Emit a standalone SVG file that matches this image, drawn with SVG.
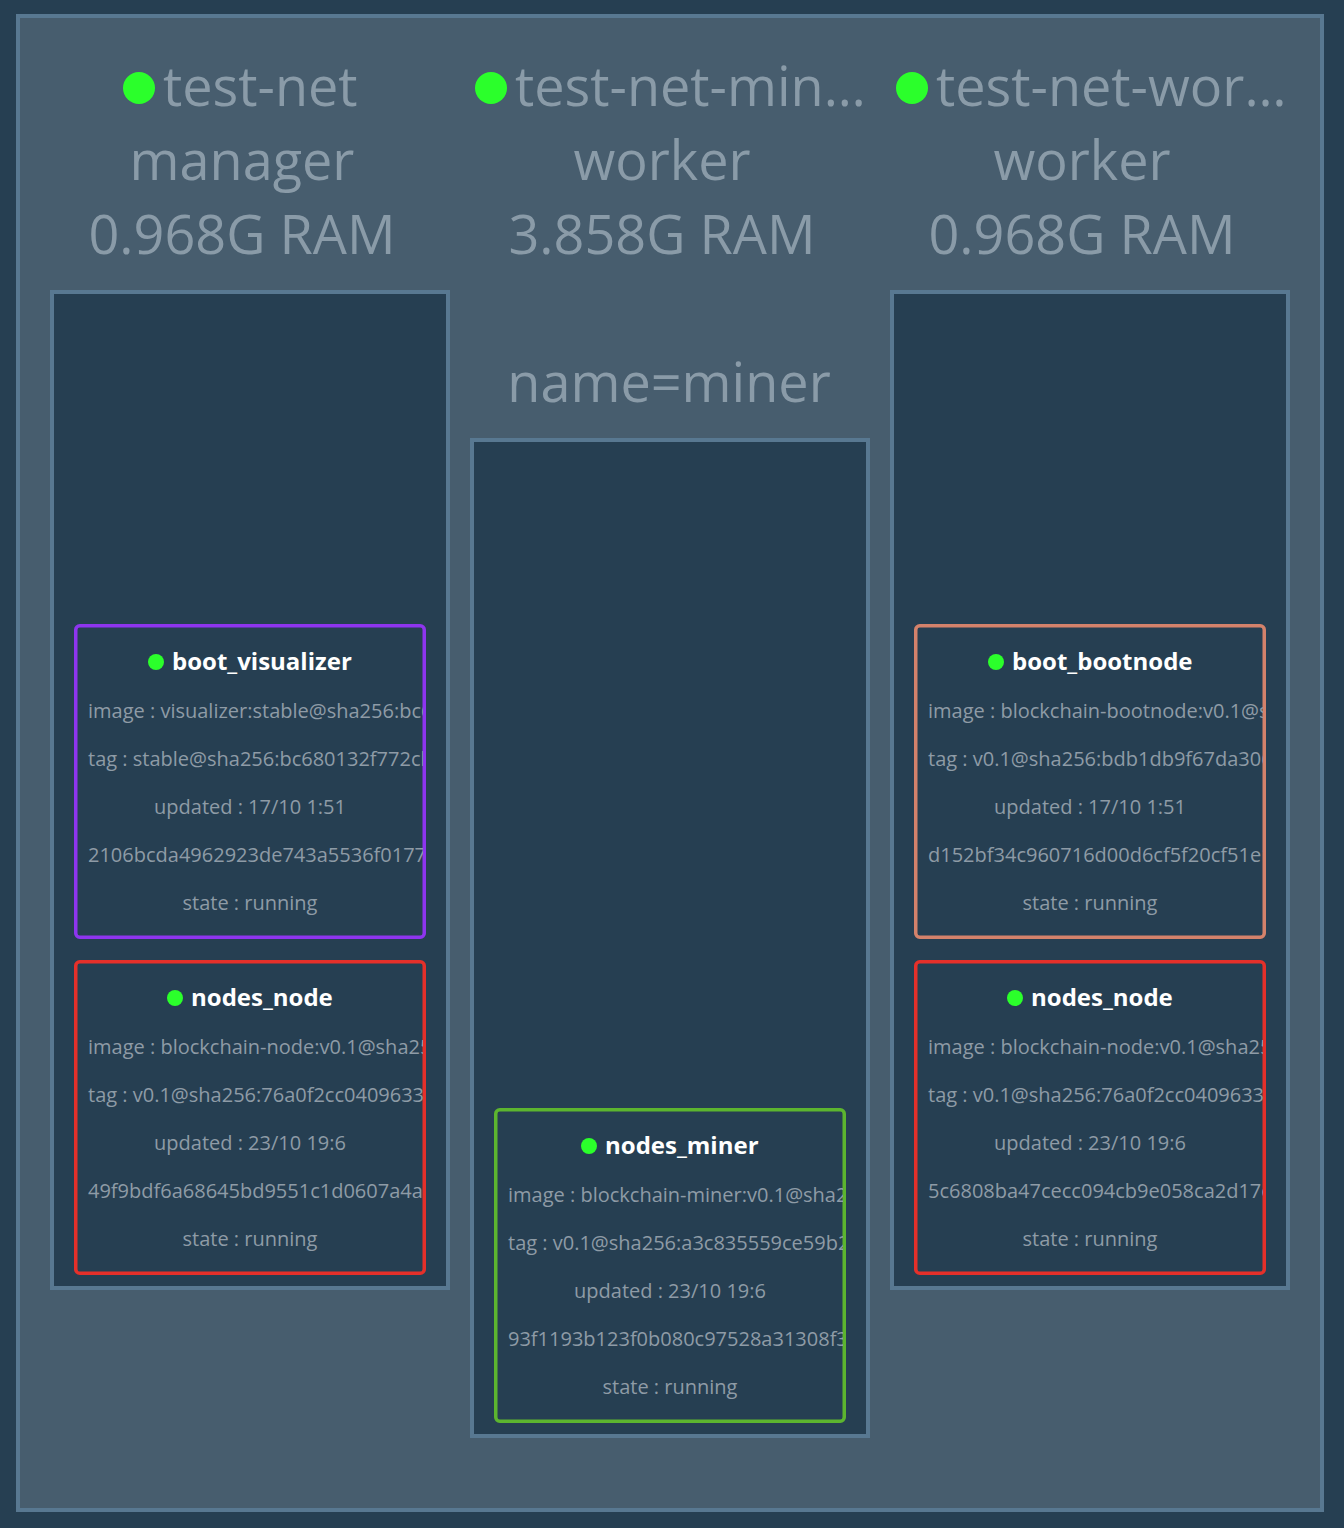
<svg xmlns="http://www.w3.org/2000/svg" width="1344" height="1528" viewBox="0 0 1344 1528">
<style>
.bg{fill:#263f52}
.panel{fill:#475d6e;stroke:#587891;stroke-width:4}
.host{fill:#263f52;stroke:#587891;stroke-width:4}
.hdr{font-family:"Open Sans","Liberation Sans",sans-serif;font-size:54px;fill:#8a9ba8}
.dot{fill:#2bff2b}
.card{fill:#263f52;stroke-width:3.5}
.ttl{font-family:"Open Sans","Liberation Sans",sans-serif;font-size:24px;font-weight:bold;fill:#ffffff}
.det{font-family:"Open Sans","Liberation Sans",sans-serif;font-size:20px;fill:#8e9ba6}
.c{text-anchor:middle}
</style>
<defs>
<clipPath id="cl1"><rect x="77" y="627" width="346" height="309"/></clipPath>
<clipPath id="cl2"><rect x="77" y="963" width="346" height="309"/></clipPath>
<clipPath id="cl3"><rect x="497" y="1111" width="346" height="309"/></clipPath>
<clipPath id="cl4"><rect x="917" y="627" width="346" height="309"/></clipPath>
<clipPath id="cl5"><rect x="917" y="963" width="346" height="309"/></clipPath>
</defs>
<rect class="bg" x="0" y="0" width="1344" height="1528"/>
<rect class="panel" x="18" y="16" width="1304" height="1494"/>

<g id="host-manager">
<circle class="dot" cx="139" cy="88" r="16"/>
<text class="hdr" x="163" y="106">test-net</text>
<text class="hdr c" x="242" y="180">manager</text>
<text class="hdr c" x="242" y="254">0.968G RAM</text>
<rect class="host" x="52" y="292" width="396" height="996"/>
</g>

<g id="host-miner">
<circle class="dot" cx="491" cy="88" r="16"/>
<text class="hdr" x="515" y="106">test-net-min…</text>
<text class="hdr c" x="662" y="180">worker</text>
<text class="hdr c" x="662" y="254">3.858G RAM</text>
<text class="hdr c" x="669" y="402">name=miner</text>
<rect class="host" x="472" y="440" width="396" height="996"/>
</g>

<g id="host-worker">
<circle class="dot" cx="912" cy="88" r="16"/>
<text class="hdr" x="936" y="106">test-net-wor…</text>
<text class="hdr c" x="1082" y="180">worker</text>
<text class="hdr c" x="1082" y="254">0.968G RAM</text>
<rect class="host" x="892" y="292" width="396" height="996"/>
</g>

<g id="card-boot-visualizer">
<rect class="card" x="75.75" y="625.75" width="348.5" height="311.5" rx="4" stroke="#8e35ef"/>
<circle class="dot" cx="156" cy="662" r="8"/>
<text class="ttl" x="172" y="670">boot_visualizer</text>
<g clip-path="url(#cl1)">
<text class="det" x="88" y="718">image : visualizer:stable@sha256:bc6</text>
<text class="det" x="88" y="766">tag : stable@sha256:bc680132f772cb</text>
<text class="det c" x="250" y="814">updated : 17/10 1:51</text>
<text class="det" x="88" y="862">2106bcda4962923de743a5536f0177</text>
<text class="det c" x="250" y="910">state : running</text>
</g>
</g>

<g id="card-nodes-node-1">
<rect class="card" x="75.75" y="961.75" width="348.5" height="311.5" rx="4" stroke="#e5302a"/>
<circle class="dot" cx="175" cy="998" r="8"/>
<text class="ttl" x="191" y="1006">nodes_node</text>
<g clip-path="url(#cl2)">
<text class="det" x="88" y="1054">image : blockchain-node:v0.1@sha256</text>
<text class="det" x="88" y="1102">tag : v0.1@sha256:76a0f2cc04096331</text>
<text class="det c" x="250" y="1150">updated : 23/10 19:6</text>
<text class="det" x="88" y="1198">49f9bdf6a68645bd9551c1d0607a4a2</text>
<text class="det c" x="250" y="1246">state : running</text>
</g>
</g>

<g id="card-nodes-miner">
<rect class="card" x="495.75" y="1109.75" width="348.5" height="311.5" rx="4" stroke="#5cb52f"/>
<circle class="dot" cx="589" cy="1146" r="8"/>
<text class="ttl" x="605" y="1154">nodes_miner</text>
<g clip-path="url(#cl3)">
<text class="det" x="508" y="1202">image : blockchain-miner:v0.1@sha25</text>
<text class="det" x="508" y="1250">tag : v0.1@sha256:a3c835559ce59b2</text>
<text class="det c" x="670" y="1298">updated : 23/10 19:6</text>
<text class="det" x="508" y="1346">93f1193b123f0b080c97528a31308f3</text>
<text class="det c" x="670" y="1394">state : running</text>
</g>
</g>

<g id="card-boot-bootnode">
<rect class="card" x="915.75" y="625.75" width="348.5" height="311.5" rx="4" stroke="#d4826b"/>
<circle class="dot" cx="996" cy="662" r="8"/>
<text class="ttl" x="1012" y="670">boot_bootnode</text>
<g clip-path="url(#cl4)">
<text class="det" x="928" y="718">image : blockchain-bootnode:v0.1@s</text>
<text class="det" x="928" y="766">tag : v0.1@sha256:bdb1db9f67da306</text>
<text class="det c" x="1090" y="814">updated : 17/10 1:51</text>
<text class="det" x="928" y="862">d152bf34c960716d00d6cf5f20cf51e1</text>
<text class="det c" x="1090" y="910">state : running</text>
</g>
</g>

<g id="card-nodes-node-2">
<rect class="card" x="915.75" y="961.75" width="348.5" height="311.5" rx="4" stroke="#e5302a"/>
<circle class="dot" cx="1015" cy="998" r="8"/>
<text class="ttl" x="1031" y="1006">nodes_node</text>
<g clip-path="url(#cl5)">
<text class="det" x="928" y="1054">image : blockchain-node:v0.1@sha256</text>
<text class="det" x="928" y="1102">tag : v0.1@sha256:76a0f2cc04096331</text>
<text class="det c" x="1090" y="1150">updated : 23/10 19:6</text>
<text class="det" x="928" y="1198">5c6808ba47cecc094cb9e058ca2d17e</text>
<text class="det c" x="1090" y="1246">state : running</text>
</g>
</g>

<g id="connectors"/>
</svg>
